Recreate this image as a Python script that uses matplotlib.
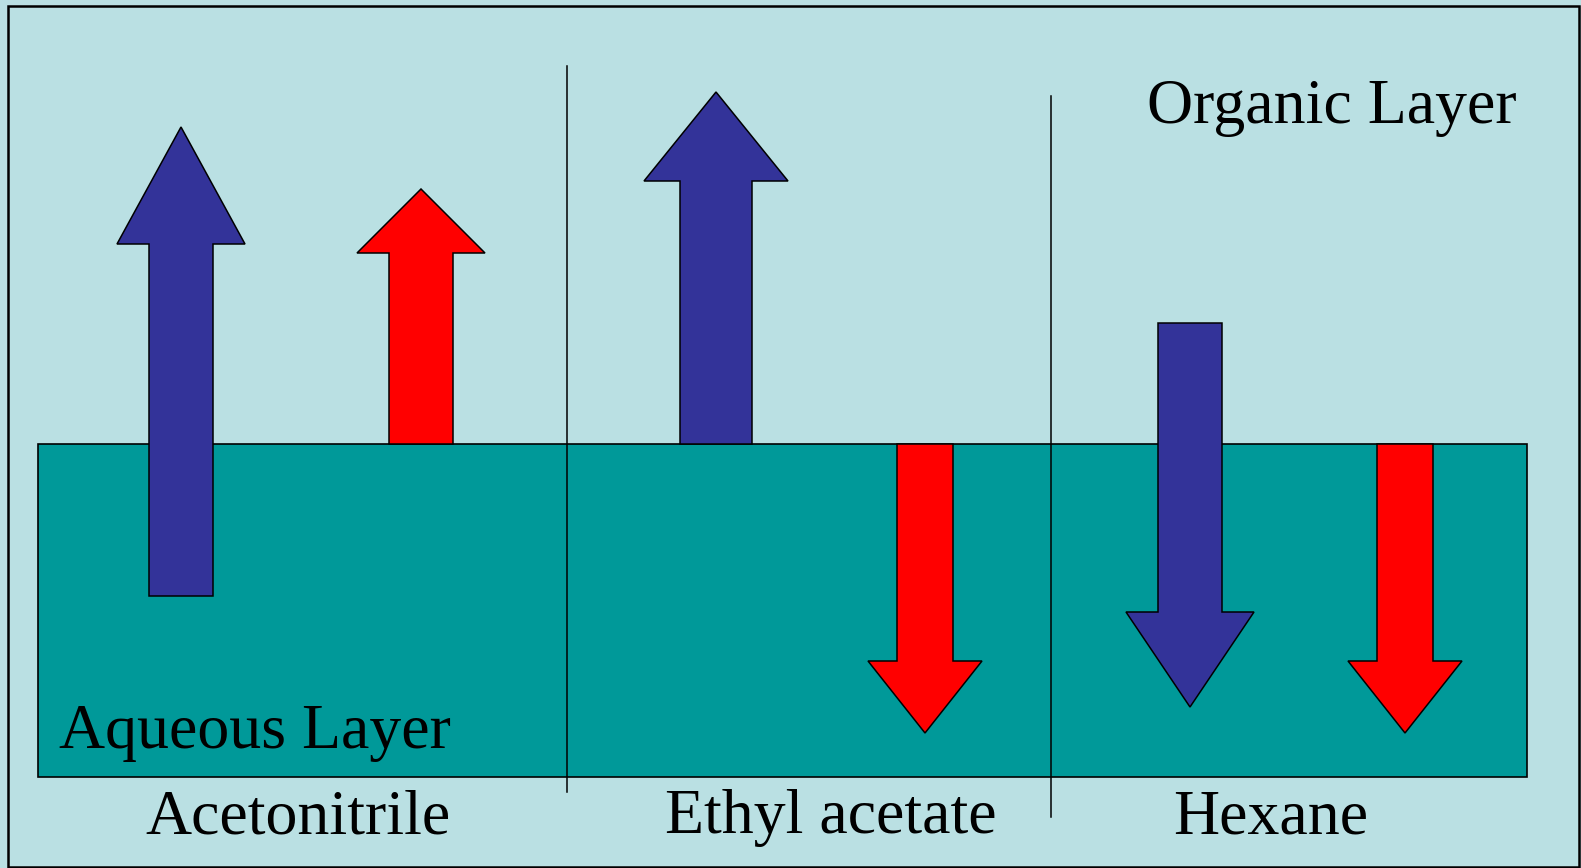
import matplotlib
matplotlib.use("Agg")
import matplotlib.pyplot as plt
from matplotlib.patches import Polygon, Rectangle

# ---- data ----
solvents = ["Acetonitrile", "Ethyl acetate", "Hexane"]
layer_labels = ["Organic Layer", "Aqueous Layer"]
# arrows: centre x, tail y, tip y (pixel-space of the canvas, y downward)
arrow_cx = [181, 421, 716, 925, 1190, 1405]
arrow_tail = [596, 444, 444, 444, 323, 444]
arrow_tip = [127, 189, 92, 733, 707, 733]
arrow_head_len = [117, 64, 89, 72, 95, 72]
arrow_shaft_half = [32, 32, 36, 28, 32, 28]
arrow_head_half = [64, 64, 72, 57, 64, 57]
arrow_colors = ["#333399", "#FF0000", "#333399", "#FF0000", "#333399", "#FF0000"]

BG = "#BAE0E3"
TEAL = "#009999"

W, H = 1581, 868
fig = plt.figure(figsize=(W / 100, H / 100), dpi=100)
fig.patch.set_facecolor(BG)
ax = fig.add_axes([0, 0, 1, 1])
ax.set_xlim(0, W)
ax.set_ylim(H, 0)
ax.axis("off")

# outer frame
ax.add_patch(Rectangle((8, 6), 1571, 861, facecolor=BG, edgecolor="black", lw=1.8, zorder=0))
# aqueous layer
ax.add_patch(Rectangle((38, 444), 1489, 333, facecolor=TEAL, edgecolor="black", lw=1.2, zorder=1))

# separators
ax.plot([567, 567], [66, 792], color="black", lw=1.1, zorder=2)
ax.plot([1051, 1051], [96, 817], color="black", lw=1.1, zorder=2)

for cx, ty, tp, hl, sh, hh, c in zip(arrow_cx, arrow_tail, arrow_tip, arrow_head_len,
                                     arrow_shaft_half, arrow_head_half, arrow_colors):
    d = 1 if tp > ty else -1
    base = tp - d * hl
    pts = [(cx - sh, ty), (cx - sh, base), (cx - hh, base), (cx, tp),
           (cx + hh, base), (cx + sh, base), (cx + sh, ty)]
    ax.add_patch(Polygon(pts, closed=True, facecolor=c, edgecolor="black", lw=1.1,
                         joinstyle="miter", zorder=3))

font = dict(family="Liberation Serif", fontsize=46, color="black", va="baseline", ha="left", zorder=4)
ax.text(1147, 123, layer_labels[0], **font)
ax.text(59, 748, layer_labels[1], **font)
for x, s in zip([145, 665, 1173], solvents):
    ax.text(x, 833, s, **font)

fig.savefig("out.png", dpi=100, facecolor=BG)
